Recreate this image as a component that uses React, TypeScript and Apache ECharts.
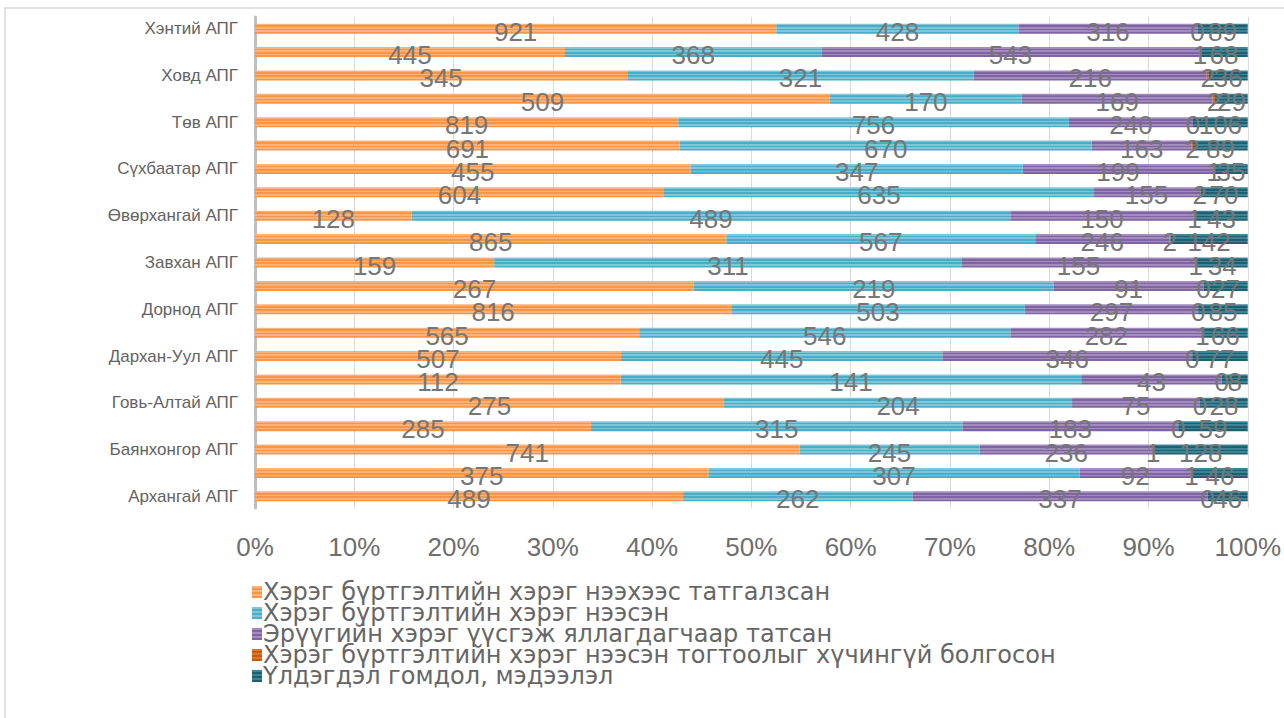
import React, { useEffect, useRef } from "react";
import * as echarts from "echarts";

const categories = [
  "Архангай АПГ", "Баян-Өлгий АПГ", "Баянхонгор АПГ", "Булган АПГ", "Говь-Алтай АПГ",
  "Говьсүмбэр АПГ", "Дархан-Уул АПГ", "Дорноговь АПГ", "Дорнод АПГ", "Дундговь АПГ",
  "Завхан АПГ", "Орхон АПГ", "Өвөрхангай АПГ", "Өмнөговь АПГ", "Сүхбаатар АПГ",
  "Сэлэнгэ АПГ", "Төв АПГ", "Увс АПГ", "Ховд АПГ", "Хөвсгөл АПГ", "Хэнтий АПГ",
];

const seriesNames = [
  "Хэрэг бүртгэлтийн хэрэг нээхээс татгалзсан",
  "Хэрэг бүртгэлтийн хэрэг нээсэн",
  "Эрүүгийн хэрэг үүсгэж яллагдагчаар татсан",
  "Хэрэг бүртгэлтийн хэрэг нээсэн тогтоолыг хүчингүй болгосон",
  "Үлдэгдэл гомдол, мэдээлэл",
];

const refused = [489, 375, 741, 285, 275, 112, 507, 565, 816, 267, 159, 865, 128, 604, 455, 691, 819, 509, 345, 445, 921];
const opened = [262, 307, 245, 315, 204, 141, 445, 546, 503, 219, 311, 567, 489, 635, 347, 670, 756, 170, 321, 368, 428];
const charged = [337, 92, 236, 183, 75, 43, 346, 282, 297, 91, 155, 246, 150, 155, 199, 163, 240, 169, 216, 543, 316];
const annulled = [0, 1, 1, 0, 0, 0, 0, 1, 0, 0, 1, 2, 1, 2, 1, 2, 0, 2, 2, 1, 0];
const remaining = [46, 46, 128, 59, 28, 8, 77, 66, 85, 27, 34, 142, 43, 70, 35, 89, 106, 29, 36, 68, 89];

const xTicks = [0, 10, 20, 30, 40, 50, 60, 70, 80, 90, 100];

const palette = [
  ["#F79646", "#FAB27A"],
  ["#4BACC6", "#7FC6D9"],
  ["#8064A2", "#A28BBD"],
  ["#C55A11", "#D9782F"],
  ["#215F6E", "#3C8597"],
];

function stripes(dark: string, light: string) {
  const stops: { offset: number; color: string }[] = [];
  const n = 6;
  for (let i = 0; i < n; i++) {
    const c = i % 2 === 0 ? light : dark;
    stops.push({ offset: i / n, color: c });
    stops.push({ offset: (i + 1) / n - 0.0001, color: c });
  }
  return new echarts.graphic.LinearGradient(0, 0, 0, 1, stops);
}

export default function App() {
  const ref = useRef<HTMLDivElement>(null);

  useEffect(() => {
    if (!ref.current) return;
    const chart = echarts.init(ref.current, null, { renderer: "svg" });
    const raw = [refused, opened, charged, annulled, remaining];
    const totals = categories.map((_, i) => raw.reduce((s, arr) => s + arr[i], 0));
    const font = "'Liberation Sans', Arial, sans-serif";
    const wide = "'DejaVu Sans', 'Liberation Sans', sans-serif";

    const series = raw.map((arr, si) => ({
      name: seriesNames[si],
      type: "bar",
      stack: "total",
      barWidth: 10,
      data: arr.map((v, i) => (v / totals[i]) * 100),
      itemStyle: { color: stripes(palette[si][0], palette[si][1]) },
      label: {
        show: true,
        position: "inside",
        offset: [0, 3],
        color: "#767676",
        fontSize: 26,
        fontFamily: font,
        formatter: (p: any) => String(arr[p.dataIndex]),
      },
      emphasis: { disabled: true },
    }));

    chart.setOption({
      animation: false,
      backgroundColor: "#ffffff",
      textStyle: { fontFamily: font },
      grid: { left: 255, right: 34, top: 17, bottom: 210, containLabel: false },
      legend: {
        orient: "vertical",
        left: 247,
        top: 575,
        itemWidth: 10,
        itemHeight: 12,
        itemGap: -3,
        icon: "rect",
        textStyle: {
          color: "#666666",
          fontSize: 24,
          lineHeight: 21,
          fontFamily: wide,
          padding: [0, 0, 0, -4],
        },
        data: seriesNames,
      },
      xAxis: {
        type: "value",
        min: xTicks[0],
        max: xTicks[xTicks.length - 1],
        interval: 10,
        axisLine: { show: false },
        axisTick: { show: false },
        splitLine: { lineStyle: { color: "#D9D9D9", width: 1 } },
        axisLabel: {
          color: "#6E6E6E",
          fontSize: 26,
          fontFamily: font,
          margin: 26,
          formatter: "{value}%",
        },
      },
      yAxis: {
        type: "category",
        data: categories,
        axisLine: { show: true, lineStyle: { color: "#BFBFBF", width: 3 } },
        axisTick: { show: false },
        axisLabel: {
          interval: 1,
          color: "#636363",
          fontSize: 17,
          fontFamily: font,
          margin: 17,
        },
      },
      graphic: [
        {
          type: "rect",
          shape: { x: 5, y: 8, width: 1300, height: 730 },
          style: { fill: "none", stroke: "#D9D9D9", lineWidth: 1.5 },
          silent: true,
          z: -10,
        },
      ],
      series,
    });
    return () => chart.dispose();
  }, []);

  return (
    <div
      ref={ref}
      style={{ position: "absolute", left: 0, top: 0, width: 1284, height: 718 }}
    />
  );
}
